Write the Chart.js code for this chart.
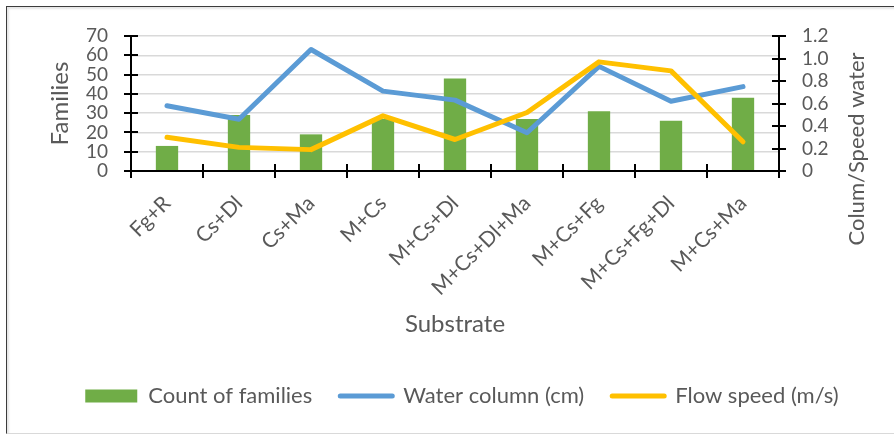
<!DOCTYPE html>
<html>
<head>
<meta charset="utf-8">
<script src="https://cdn.jsdelivr.net/npm/chart.js@4"></script>
<style>
  html, body { margin: 0; padding: 0; background: #fff; }
  #wrap { position: relative; width: 894px; height: 434px; }
  #frame {
    position: absolute; left: 6px; top: 6px; right: -4px; bottom: 0;
    border-top: 1px solid #3c3c3c; border-left: 1px solid #3c3c3c;
    border-bottom: 1px solid #d9d9d9;
    box-shadow: inset 2px 2px 2px rgba(0,0,0,0.10);
    pointer-events: none;
  }
  canvas { display: block; }
</style>
</head>
<body>
<div id="wrap">
  <canvas id="chart" width="894" height="434"></canvas>
  <div id="frame"></div>
</div>
<script>
// Substrate combinations along the x axis
const categories = ['Fg+R', 'Cs+Dl', 'Cs+Ma', 'M+Cs', 'M+Cs+Dl', 'M+Cs+Dl+Ma', 'M+Cs+Fg', 'M+Cs+Fg+Dl', 'M+Cs+Ma'];
// Number of families per substrate (left axis)
const families = [13, 29, 19, 27, 48, 27, 31, 26, 38];
// Water column and flow speed (right axis)
const waterColumn = [0.58, 0.46, 1.08, 0.71, 0.63, 0.34, 0.93, 0.62, 0.75];
const flowSpeed = [0.30, 0.21, 0.19, 0.49, 0.28, 0.52, 0.97, 0.89, 0.26];
// Axis ranges
const leftAxis = { min: 0, max: 70, step: 10 };
const rightAxis = { min: 0, max: 1.2, step: 0.2 };

const FONT = 'Lato';
const TEXT = '#595959';
const GREEN = '#70AD47', BLUE = '#5B9BD5', GOLD = '#FFC000';

// Black axis lines with tick marks that cross the axes, plus the right-hand title
const axesPlugin = {
  id: 'crossAxes',
  afterDatasetsDraw(chart) {
    const { ctx, chartArea: a, scales: { x, y, y1 } } = chart;
    const T = 7;
    ctx.save();
    ctx.strokeStyle = '#000';
    ctx.lineWidth = 2;
    ctx.beginPath();
    // left axis
    ctx.moveTo(a.left, a.top); ctx.lineTo(a.left, a.bottom + T);
    y.ticks.forEach(t => {
      const py = Math.round(y.getPixelForValue(t.value));
      ctx.moveTo(a.left - T, py); ctx.lineTo(a.left + T, py);
    });
    // right axis
    ctx.moveTo(a.right, a.top); ctx.lineTo(a.right, a.bottom + T);
    y1.ticks.forEach(t => {
      const py = Math.round(y1.getPixelForValue(t.value));
      ctx.moveTo(a.right - T, py); ctx.lineTo(a.right + T, py);
    });
    // category axis with ticks between categories
    ctx.moveTo(a.left - T, a.bottom); ctx.lineTo(a.right + T, a.bottom);
    for (let i = 1; i < categories.length; i++) {
      const px = Math.round((x.getPixelForValue(i - 1) + x.getPixelForValue(i)) / 2);
      ctx.moveTo(px, a.bottom - T); ctx.lineTo(px, a.bottom + T);
    }
    ctx.stroke();

    // right axis title, reading bottom to top
    ctx.fillStyle = TEXT;
    ctx.font = '22px ' + FONT;
    ctx.textAlign = 'center';
    ctx.textBaseline = 'middle';
    ctx.translate(857, 149);
    ctx.rotate(-Math.PI / 2);
    ctx.fillText('Colum/Speed water', 0, 0);
    ctx.restore();
  }
};

new Chart(document.getElementById('chart'), {
  data: {
    labels: categories,
    datasets: [
      {
        type: 'bar', label: 'Count of families', data: families,
        backgroundColor: GREEN, borderWidth: 0, yAxisID: 'y', order: 3,
        barPercentage: 0.31, categoryPercentage: 1
      },
      {
        type: 'line', label: 'Water column (cm)', data: waterColumn,
        borderColor: BLUE, backgroundColor: BLUE, borderWidth: 5,
        pointRadius: 0, tension: 0, borderJoinStyle: 'round', borderCapStyle: 'round',
        yAxisID: 'y1', order: 2
      },
      {
        type: 'line', label: 'Flow speed (m/s)', data: flowSpeed,
        borderColor: GOLD, backgroundColor: GOLD, borderWidth: 5,
        pointRadius: 0, tension: 0, borderJoinStyle: 'round', borderCapStyle: 'round',
        yAxisID: 'y1', order: 1
      }
    ]
  },
  options: {
    responsive: false,
    animation: false,
    devicePixelRatio: 1,
    layout: { padding: { top: 36, bottom: 17, left: 30, right: 0 } },
    plugins: {
      tooltip: { enabled: false },
      legend: {
        position: 'bottom',
        labels: {
          usePointStyle: true,
          pointStyleWidth: 52,
          boxHeight: 13,
          padding: 28,
          color: TEXT,
          font: { family: FONT, size: 22 },
          generateLabels(chart) {
            return chart.data.datasets.map((ds, i) => ({
              text: ds.label,
              datasetIndex: i,
              fillStyle: ds.type === 'bar' ? ds.backgroundColor : 'rgba(0,0,0,0)',
              strokeStyle: ds.type === 'bar' ? ds.backgroundColor : ds.borderColor,
              lineWidth: ds.type === 'bar' ? 0 : 5,
              lineCap: 'round',
              pointStyle: ds.type === 'bar' ? 'rect' : 'line',
              fontColor: TEXT,
              hidden: false
            }));
          }
        }
      }
    },
    scales: {
      x: {
        grid: { display: false, drawTicks: false },
        border: { display: false },
        ticks: {
          autoSkip: false, minRotation: 45, maxRotation: 45,
          padding: 20, labelOffset: 0,
          color: TEXT, font: { family: FONT, size: 21 }
        },
        title: {
          display: true, text: 'Substrate', color: TEXT,
          font: { family: FONT, size: 24 }, padding: { top: 0, bottom: 18 }
        },
        afterFit(s) { s.height = 186; }
      },
      y: {
        position: 'left',
        min: leftAxis.min, max: leftAxis.max,
        ticks: { autoSkip: false, stepSize: leftAxis.step, padding: 23, color: TEXT, font: { family: FONT, size: 19 } },
        grid: { color: '#d9d9d9', lineWidth: 1.5, drawTicks: false },
        border: { display: false },
        title: {
          display: true, text: 'Families', color: TEXT,
          font: { family: FONT, size: 24 }, padding: { top: 16, bottom: 0 }
        },
        afterFit(s) { s.width = 101; }
      },
      y1: {
        position: 'right',
        min: rightAxis.min, max: rightAxis.max,
        ticks: { autoSkip: false, stepSize: rightAxis.step, padding: 23, color: TEXT, font: { family: FONT, size: 19 } },
        grid: { display: false, drawTicks: false },
        border: { display: false },
        afterFit(s) { s.width = 115; }
      }
    }
  },
  plugins: [axesPlugin]
});
</script>
</body>
</html>
